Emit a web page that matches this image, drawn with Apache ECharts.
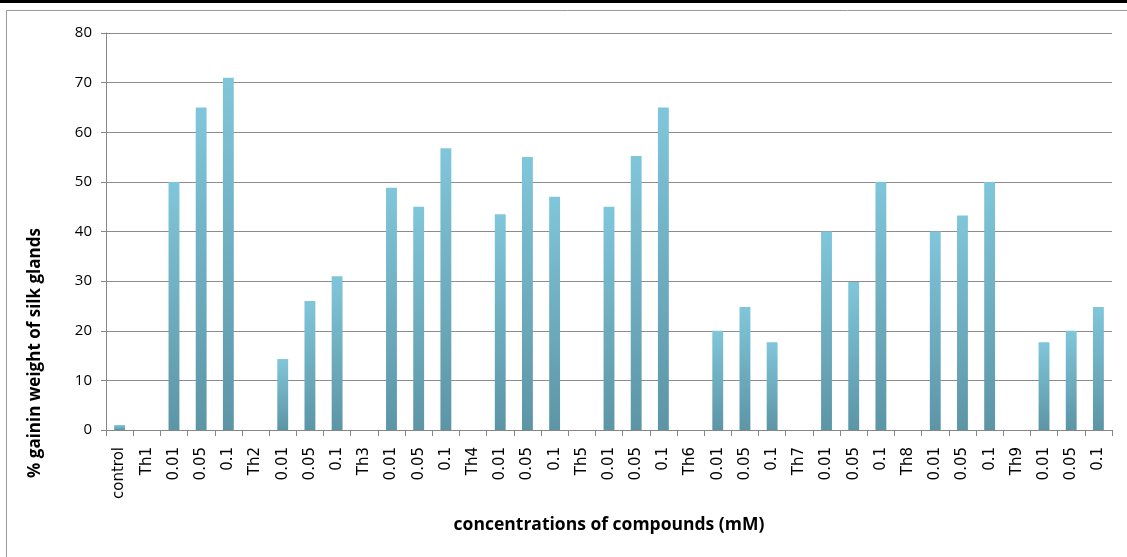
<!DOCTYPE html>
<html><head><meta charset="utf-8">
<script src="https://cdn.jsdelivr.net/npm/echarts@6/dist/echarts.min.js"></script>
<style>html,body{margin:0;padding:0;background:#fff}#c{width:1127px;height:557px}</style>
</head><body><div id="c"></div>
<script>
const categories = ['control','Th1','0.01','0.05','0.1','Th2','0.01','0.05','0.1','Th3','0.01','0.05','0.1','Th4','0.01','0.05','0.1','Th5','0.01','0.05','0.1','Th6','0.01','0.05','0.1','Th7','0.01','0.05','0.1','Th8','0.01','0.05','0.1','Th9','0.01','0.05','0.1'];
const gainValues = [1,0,50,65,71,0,14.3,26,31,0,48.8,45,56.8,0,43.5,55,47,0,45,55.2,65,0,20,24.8,17.7,0,40,29.8,50,0,40,43.2,50,0,17.7,20,24.8];
const yTicks = [0,10,20,30,40,50,60,70,80];
const xTitle = 'concentrations of compounds (mM)';
const yTitle = '% gainin weight of silk glands';

const chart = echarts.init(document.getElementById('c'));
chart.setOption({
  animation:false,
  backgroundColor:'#fff',
  grid:{left:106,right:15,top:33,bottom:127,containLabel:false},
  xAxis:{type:'category',data:categories,
    axisLine:{lineStyle:{color:'#868686',width:1}},
    axisTick:{show:true,alignWithLabel:false,length:6,lineStyle:{color:'#868686'}},
    axisLabel:{rotate:90,interval:0,color:'#000',fontSize:15,fontFamily:'DejaVu Sans',margin:17},
    name:'',splitLine:{show:false}},
  yAxis:{type:'value',min:yTicks[0],max:yTicks[yTicks.length-1],interval:10,
    axisLine:{show:true,lineStyle:{color:'#868686'}},
    axisTick:{show:true,length:5,lineStyle:{color:'#868686'}},
    axisLabel:{color:'#000',fontSize:15,fontFamily:'Open Sans',margin:14},
    splitLine:{lineStyle:{color:'#8c8c8c',width:1}}},
  series:[{type:'bar',data:gainValues,barWidth:'40%',
    itemStyle:{color:new echarts.graphic.LinearGradient(0,0,0,1,[{offset:0,color:'#80c6da'},{offset:1,color:'#5c95a6'}])}}],
  graphic:[
    {type:'rect',shape:{x:0,y:0,width:1127,height:3},style:{fill:'#000'},z:100},
    {type:'rect',shape:{x:6.5,y:10.5,width:1130,height:560},style:{fill:'none',stroke:'#9a9a9a',lineWidth:1},z:100},
    {type:'text',x:609,y:525,style:{text:xTitle,font:'bold 17.5px "Open Sans"',fill:'#000',textAlign:'center',textVerticalAlign:'middle'},z:100},
    {type:'text',x:35,y:353,rotation:Math.PI/2,style:{text:yTitle,font:'bold 17px "Open Sans"',fill:'#000',textAlign:'center',textVerticalAlign:'middle'},z:100}
  ]
});
</script></body></html>
